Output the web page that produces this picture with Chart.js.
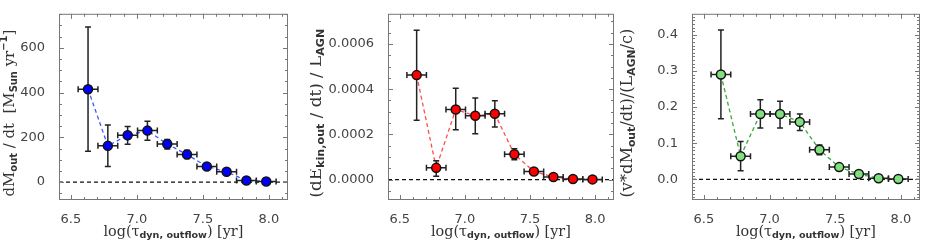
<!DOCTYPE html>
<html>
<head>
<meta charset="utf-8">
<script src="https://cdn.jsdelivr.net/npm/chart.js@4.4.1/dist/chart.umd.min.js"></script>
<style>
  body { margin: 0; background: #fff; }
  .panel { position: absolute; top: 0; height: 246px; }
</style>
</head>
<body>
<div class="panel" style="left:0;width:310px"><canvas id="c1"></canvas></div>
<div class="panel" style="left:310px;width:310px"><canvas id="c2"></canvas></div>
<div class="panel" style="left:620px;width:306px"><canvas id="c3"></canvas></div>
<script>
// bin centres, log(tau_dyn) [yr]
var tauBins = [6.63, 6.78, 6.93, 7.08, 7.23, 7.38, 7.53, 7.68, 7.83, 7.98];
var tauHalfWidth = 0.075;

// panel 1: dM/dt [Msun/yr]
var massRate = [415, 162, 209, 230, 170, 123, 70, 46, 7, 3];
var massRateLo = [138, 70, 169, 187, 148, 105, 62, 40, 3, 1];
var massRateHi = [693, 255, 248, 272, 190, 142, 78, 52, 10, 5];

// panel 2: (dEkin/dt)/L_AGN
var kinRatio = [0.000462, 0.000052, 0.00031, 0.000282, 0.000291, 0.000112, 0.000036, 0.000012, 0.000003, 0.000001];
var kinRatioLo = [0.000263, 0.000015, 0.00022, 0.000203, 0.000233, 0.000088, 0.000031, 0.000009, 0.000001, 0.0];
var kinRatioHi = [0.00066, 0.000084, 0.000404, 0.000361, 0.000349, 0.000137, 0.000041, 0.000015, 0.000005, 0.000002];

// panel 3: (v*dM/dt)/(L_AGN/c)
var momRatio = [0.29, 0.064, 0.181, 0.181, 0.159, 0.082, 0.034, 0.015, 0.003, 0.001];
var momRatioLo = [0.168, 0.024, 0.142, 0.142, 0.135, 0.068, 0.031, 0.013, 0.002, 0.0];
var momRatioHi = [0.413, 0.105, 0.22, 0.216, 0.181, 0.095, 0.037, 0.017, 0.004, 0.002];

var xTicks = [6.5, 7.0, 7.5, 8.0];

var SERIF = '"DejaVu Serif", "Liberation Serif", serif';
var SANS = '"DejaVu Sans", sans-serif';

// text with sub/superscripts, sized to fit a given length
function drawRich(ctx, parts, x, y, rot, target) {
    function fontFor(p, k) {
        return p[1] ? 'bold ' + (10 * k) + 'px ' + SANS : (15 * k) + 'px ' + SERIF;
    }
    var total = 0;
    parts.forEach(function (p) {
        ctx.font = fontFor(p, 1);
        total += ctx.measureText(p[0]).width;
    });
    var k = target ? target / total : 1;
    ctx.save();
    ctx.translate(x, y);
    if (rot) ctx.rotate(-Math.PI / 2);
    ctx.fillStyle = '#333';
    ctx.textBaseline = 'middle';
    ctx.textAlign = 'left';
    var cx = -total * k / 2;
    parts.forEach(function (p) {
        ctx.font = fontFor(p, k);
        var dy = p[1] === 'sub' ? 4 * k : (p[1] === 'sup' ? -6 * k : 0);
        ctx.fillText(p[0], cx, dy);
        cx += ctx.measureText(p[0]).width;
    });
    ctx.restore();
}

var xTitle = [['log(\u03C4', ''], ['dyn, outflow', 'sub'], [') [yr]', '']];

var framePlugin = {
    id: 'frame',
    beforeDatasetsDraw: function (chart) {
        var ctx = chart.ctx, a = chart.chartArea, y = chart.scales.y;
        var y0 = y.getPixelForValue(0);
        ctx.save();
        ctx.strokeStyle = '#111';
        ctx.lineWidth = 1.2;
        ctx.setLineDash([4, 3]);
        ctx.beginPath();
        ctx.moveTo(a.left, y0);
        ctx.lineTo(a.right, y0);
        ctx.stroke();
        ctx.restore();
    },
    afterDatasetDraw: function (chart, args) {
        if (args.index !== 1) return;
        var o = chart.options.plugins.frame;
        var ctx = chart.ctx, xs = chart.scales.x, ys = chart.scales.y;
        ctx.save();
        ctx.strokeStyle = '#222';
        ctx.lineWidth = 1.5;
        for (var i = 0; i < tauBins.length; i++) {
            var px = xs.getPixelForValue(tauBins[i]);
            var py = ys.getPixelForValue(o.vals[i]);
            var pl = xs.getPixelForValue(tauBins[i] - tauHalfWidth);
            var pr = xs.getPixelForValue(tauBins[i] + tauHalfWidth);
            var pt = ys.getPixelForValue(o.hi[i]);
            var pb = ys.getPixelForValue(o.lo[i]);
            ctx.beginPath();
            ctx.moveTo(pl, py); ctx.lineTo(pr, py);
            ctx.moveTo(pl, py - 3); ctx.lineTo(pl, py + 3);
            ctx.moveTo(pr, py - 3); ctx.lineTo(pr, py + 3);
            ctx.moveTo(px, pt); ctx.lineTo(px, pb);
            ctx.moveTo(px - 3, pt); ctx.lineTo(px + 3, pt);
            ctx.moveTo(px - 3, pb); ctx.lineTo(px + 3, pb);
            ctx.stroke();
        }
        ctx.restore();
    },
    afterDraw: function (chart) {
        var o = chart.options.plugins.frame;
        var ctx = chart.ctx, a = chart.chartArea, xs = chart.scales.x, ys = chart.scales.y;
        ctx.save();
        ctx.strokeStyle = '#777';
        ctx.lineWidth = 1;
        ctx.strokeRect(a.left + 0.5, a.top + 0.5, a.right - a.left - 1, a.bottom - a.top - 1);
        ctx.beginPath();
        var v, p, len;
        for (v = 6.5; v <= 8.15; v += 0.1) {
            p = Math.round(xs.getPixelForValue(v)) + 0.5;
            if (p < a.left || p > a.right) continue;
            len = Math.abs(v * 2 - Math.round(v * 2)) < 0.01 ? 5 : 3;
            ctx.moveTo(p, a.bottom); ctx.lineTo(p, a.bottom - len);
            ctx.moveTo(p, a.top); ctx.lineTo(p, a.top + len);
        }
        var n0 = Math.ceil(ys.min / o.minor), n1 = Math.floor(ys.max / o.minor);
        var per = Math.round(o.major / o.minor);
        for (var k = n0; k <= n1; k++) {
            p = Math.round(ys.getPixelForValue(k * o.minor)) + 0.5;
            len = k % per === 0 ? 5 : 3;
            ctx.moveTo(a.left, p); ctx.lineTo(a.left + len, p);
            ctx.moveTo(a.right, p); ctx.lineTo(a.right - len, p);
        }
        ctx.stroke();
        ctx.restore();
        drawRich(ctx, xTitle, (a.left + a.right) / 2, 232, false, 140);
        drawRich(ctx, o.yTitle, o.yTitleX, 113, true, o.yTitleLen);
    }
};

function makePanel(id, cfg) {
    var ctx = document.getElementById(id);
    return new Chart(ctx, {
        type: 'scatter',
        data: {
            datasets: [{
                data: tauBins.map(function (x, i) { return {x: x, y: cfg.vals[i]}; }),
                showLine: false,
                pointRadius: 4.5,
                pointHoverRadius: 4.5,
                pointBackgroundColor: cfg.fill,
                pointBorderColor: '#111',
                pointBorderWidth: 1.5
            }, {
                data: tauBins.map(function (x, i) { return {x: x, y: cfg.vals[i]}; }),
                showLine: true,
                pointRadius: 0,
                borderColor: cfg.line,
                borderWidth: 1.3,
                borderDash: [4, 3]
            }]
        },
        options: {
            responsive: true,
            maintainAspectRatio: false,
            animation: false,
            events: [],
            layout: {padding: {left: 0, top: cfg.top, right: cfg.padRight, bottom: 0}},
            plugins: {
                legend: {display: false},
                tooltip: {enabled: false},
                frame: {vals: cfg.vals, lo: cfg.lo, hi: cfg.hi, minor: cfg.minor, major: cfg.major,
                        yTitle: cfg.yTitle, yTitleX: cfg.yTitleX, yTitleLen: cfg.yTitleLen}
            },
            scales: {
                x: {
                    type: 'linear',
                    min: 6.41, max: 8.145,
                    grid: {display: false},
                    border: {display: false},
                    afterBuildTicks: function (s) { s.ticks = xTicks.map(function (v) { return {value: v}; }); },
                    afterFit: function (s) { s.height = 46; },
                    ticks: {
                        padding: 4,
                        color: '#444',
                        font: {family: SANS, size: 13},
                        maxRotation: 0,
                        callback: function (v) { return v.toFixed(1); }
                    }
                },
                y: {
                    type: 'linear',
                    min: cfg.yMin, max: cfg.yMax,
                    grid: {display: false},
                    border: {display: false},
                    afterBuildTicks: function (s) { s.ticks = cfg.yTicks.map(function (v) { return {value: v}; }); },
                    afterFit: function (s) { s.width = cfg.areaLeft; },
                    ticks: {
                        padding: 6,
                        color: '#444',
                        font: {family: SANS, size: 13},
                        callback: function (v) { return v.toFixed(cfg.digits); }
                    }
                }
            }
        },
        plugins: [framePlugin]
    });
}

makePanel('c1', {
    vals: massRate, lo: massRateLo, hi: massRateHi,
    fill: '#0000ff', line: '#3d5cff',
    yMin: -80, yMax: 752, yTicks: [0, 200, 400, 600], digits: 0,
    minor: 50, major: 200,
    areaLeft: 59, padRight: 22, top: 1, yTitleX: 10, yTitleLen: 167,
    yTitle: [['dM', ''], ['out', 'sub'], [' / dt  [M', ''], ['Sun', 'sub'], [' yr', ''], ['\u22121', 'sup'], [']', '']]
});
makePanel('c2', {
    vals: kinRatio, lo: kinRatioLo, hi: kinRatioHi,
    fill: '#ff0000', line: '#ff4d4d',
    yMin: -0.00009, yMax: 0.000733, yTicks: [0, 0.0002, 0.0004, 0.0006], digits: 4,
    minor: 0.00005, major: 0.0002,
    areaLeft: 78, padRight: 5, top: 1, yTitleX: 7, yTitleLen: 169,
    yTitle: [['(dE', ''], ['kin,out', 'sub'], [' / dt) / L', ''], ['AGN', 'sub']]
});
makePanel('c3', {
    vals: momRatio, lo: momRatioLo, hi: momRatioHi,
    fill: '#80e080', line: '#3aa83a',
    yMin: -0.057, yMax: 0.458, yTicks: [0, 0.1, 0.2, 0.3, 0.4], digits: 1,
    minor: 0.01, major: 0.1,
    areaLeft: 72, padRight: 3, top: 3, yTitleX: 8, yTitleLen: 169,
    yTitle: [['(v*dM', ''], ['out', 'sub'], ['/dt)/(L', ''], ['AGN', 'sub'], ['/c)', '']]
});
</script>
</body>
</html>
